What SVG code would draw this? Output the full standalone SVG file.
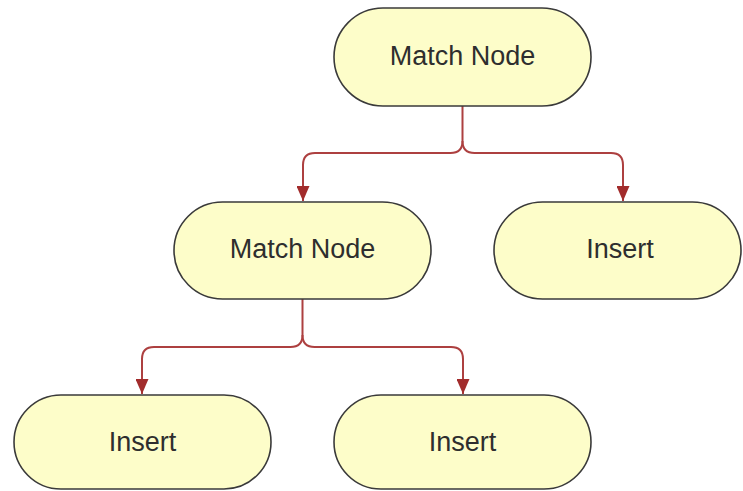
<svg xmlns="http://www.w3.org/2000/svg" width="743" height="491" viewBox="0 0 743 491">
  <defs>
    <marker id="arrow" markerWidth="15" markerHeight="13" refX="15" refY="6.5" orient="auto" markerUnits="userSpaceOnUse" viewBox="0 0 15 13">
      <path d="M0,0 L15,6.5 L0,13 Z" fill="#a22c2c"/>
    </marker>
  </defs>
  <style>
    .node rect { fill: #fdfdc9; stroke: #3a3a3a; stroke-width: 1.6; }
    .node text { font-family: "Liberation Sans", Arial, sans-serif; font-size: 27px; fill: #2e2e2e; text-anchor: middle; }
    .edge { fill: none; stroke: #ad4040; stroke-width: 2; }
  </style>
  <rect width="743" height="491" fill="#ffffff"/>
  <g id="connectors">
    <path class="edge" d="M462.5,106 V141 Q462.5,153 450.5,153 H315 Q303,153 303,165 V201" marker-end="url(#arrow)"/>
    <path class="edge" d="M462.5,141 Q462.5,153 474.5,153 H611 Q623,153 623,165 V201" marker-end="url(#arrow)"/>
    <path class="edge" d="M302.5,299 V335 Q302.5,347 290.5,347 H154 Q142,347 142,359 V394" marker-end="url(#arrow)"/>
    <path class="edge" d="M302.5,335 Q302.5,347 314.5,347 H451 Q463,347 463,359 V394" marker-end="url(#arrow)"/>
  </g>
  <g id="node-root" class="node">
    <rect x="334" y="8" width="257" height="98" rx="49" ry="49"/>
    <text x="462.5" y="65">Match Node</text>
  </g>
  <g id="node-match2" class="node">
    <rect x="174" y="202" width="257" height="97" rx="48.5" ry="48.5"/>
    <text x="302.5" y="258">Match Node</text>
  </g>
  <g id="node-insert1" class="node">
    <rect x="494" y="202" width="247" height="97" rx="48.5" ry="48.5"/>
    <text x="620" y="258">Insert</text>
  </g>
  <g id="node-insert2" class="node">
    <rect x="14" y="395" width="257" height="94" rx="47" ry="47"/>
    <text x="142.5" y="451">Insert</text>
  </g>
  <g id="node-insert3" class="node">
    <rect x="334" y="395" width="257" height="94" rx="47" ry="47"/>
    <text x="462.5" y="451">Insert</text>
  </g>
</svg>
